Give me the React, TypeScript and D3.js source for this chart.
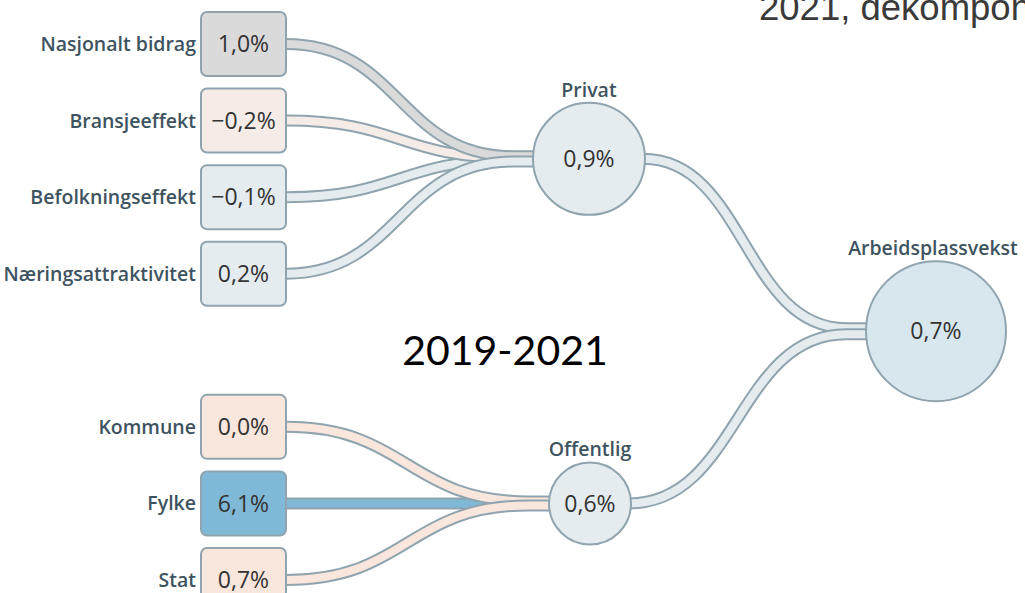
import React from "react";
import * as d3 from "d3";

// ---------- DATA ----------
const leftLabels = [
  "Nasjonalt bidrag",
  "Bransjeeffekt",
  "Befolkningseffekt",
  "Næringsattraktivitet",
  "Kommune",
  "Fylke",
  "Stat",
];
const leftValues = [1.0, -0.2, -0.1, 0.2, 0.0, 6.1, 0.7];
const leftTargets = ["Privat", "Privat", "Privat", "Privat", "Offentlig", "Offentlig", "Offentlig"];
const midLabels = ["Privat", "Offentlig"];
const midValues = [0.9, 0.6];
const rootLabel = "Arbeidsplassvekst";
const rootValue = 0.7;
const periodLabel = "2019-2021";
const titleText = "2021, dekomponert";

// ---------- STYLE ----------
const W = 1025;
const H = 593;
const outline = "#8fa4ae";
const labelColor = "#3e5360";
const valueColor = "#333333";
const font = "'Open Sans', sans-serif";
const leftFill: Record<string, string> = {
  "Nasjonalt bidrag": "#dadada",
  Bransjeeffekt: "#f5ece7",
  Befolkningseffekt: "#e5ecf0",
  Næringsattraktivitet: "#e5ecf0",
  Kommune: "#f9e6dc",
  Fylke: "#80b8d7",
  Stat: "#f9e6dc",
};
const midFill = "#e5ecf0";
const rootFill = "#d8e6ee";
const slot = [0, 1, 2, 3, 5, 6, 7];
const midRadius: Record<string, number> = { Privat: 56, Offentlig: 41 };
const rootRadius = 70;

const fmt = (v: number) => {
  const s = Math.abs(v).toFixed(1).replace(".", ",") + "%";
  return v < 0 ? "\u2212" + s : s;
};

export default function App() {
  const y = d3.scaleLinear().domain([0, 7]).range([44, 580]);
  const boxX = 201;
  const boxW = 85;
  const boxH = 64;
  const col = d3.scalePoint<string>().domain(["left", "mid", "root"]).range([243.5, 936]).padding(0);
  const midX = 589;
  const rootX = col("root")!;

  const midY: Record<string, number> = {};
  midLabels.forEach((m) => {
    const ys = leftLabels.map((_, i) => i).filter((i) => leftTargets[i] === m).map((i) => y(slot[i]));
    midY[m] = m === "Privat" ? (d3.min(ys)! + d3.max(ys)!) / 2 : d3.median(ys)!;
  });
  const rootY = (midY["Privat"] + midY["Offentlig"]) / 2;

  const linkGen = d3.linkHorizontal<any, [number, number]>()
    .source((d: any) => d.s)
    .target((d: any) => d.t);

  type L = { d: string; fill: string; dy: number };
  const links: L[] = [];
  midLabels.forEach((m) => {
    const idx = leftLabels.map((_, i) => i).filter((i) => leftTargets[i] === m);
    const n = idx.length;
    const left = midX + (m === "Privat" ? 0 : 1) - midRadius[m];
    idx.forEach((i, k) => {
      const off = (k - (n - 1) / 2) * (n > 3 ? 1.8 : 2);
      const sy = y(slot[i]);
      const ty = midY[m] + off;
      const x1 = left - 20;
      links.push({
        d: linkGen({ s: [boxX + boxW, sy], t: [x1, ty] })! + `L${left + 2},${ty}`,
        fill: leftFill[leftLabels[i]],
        dy: Math.abs(ty - sy),
      });
    });
  });
  links.sort((a, b) => a.dy - b.dy);

  const rootLinks: L[] = midLabels.map((m, k) => {
    const sx = midX + (m === "Privat" ? 0 : 1) + midRadius[m] - 2;
    const left = rootX - rootRadius;
    const ty = rootY + (k === 0 ? -3 : 3);
    return {
      d: linkGen({ s: [sx, midY[m]], t: [left - 20, ty] })! + `L${left + 2},${ty}`,
      fill: midFill,
      dy: 0,
    };
  });

  return (
    <svg width={W} height={H} style={{ position: "absolute", left: 0, top: 0 }}>
      <rect width={W} height={H} fill="#ffffff" />
      <text x={759} y={20} fontFamily="'Liberation Sans', Arial, sans-serif" fontSize={36.5} fill="#3a3a3a">
        {titleText}
      </text>
      {[...rootLinks, ...links].map((l, i) => (
        <g key={i}>
          <path d={l.d} fill="none" stroke={outline} strokeWidth={12} />
          <path d={l.d} fill="none" stroke={l.fill} strokeWidth={8} />
        </g>
      ))}
      {leftLabels.map((lab, i) => {
        const cy = y(slot[i]);
        return (
          <g key={lab}>
            <rect x={boxX} y={cy - boxH / 2} width={boxW} height={boxH} rx={6} fill={leftFill[lab]} stroke={outline} strokeWidth={2} />
            <text x={boxX + boxW / 2} y={cy} dy="0.36em" textAnchor="middle" fontFamily={font} fontSize={23} fill={valueColor}>
              {fmt(leftValues[i])}
            </text>
            <text x={boxX - 5} y={cy} dy="0.36em" textAnchor="end" fontFamily={font} fontWeight={600} fontSize={19.5} fill={labelColor}>
              {lab}
            </text>
          </g>
        );
      })}
      {midLabels.map((m, i) => {
        const cx = midX + (m === "Privat" ? 0 : 1);
        const r = midRadius[m];
        return (
          <g key={m}>
            <circle cx={cx} cy={midY[m]} r={r} fill={midFill} stroke={outline} strokeWidth={2} />
            <text x={cx} y={midY[m]} dy="0.36em" textAnchor="middle" fontFamily={font} fontSize={23} fill={valueColor}>
              {fmt(midValues[i])}
            </text>
            <text x={cx} y={midY[m] - r - 6} textAnchor="middle" fontFamily={font} fontWeight={600} fontSize={19.5} fill={labelColor}>
              {m}
            </text>
          </g>
        );
      })}
      <circle cx={rootX} cy={rootY} r={rootRadius} fill={rootFill} stroke={outline} strokeWidth={2} />
      <text x={rootX} y={rootY} dy="0.36em" textAnchor="middle" fontFamily={font} fontSize={23} fill={valueColor}>
        {fmt(rootValue)}
      </text>
      <text x={rootX - 3} y={rootY - rootRadius - 6} textAnchor="middle" fontFamily={font} fontWeight={600} fontSize={19.5} fill={labelColor}>
        {rootLabel}
      </text>
      <text x={505} y={365} textAnchor="middle" fontFamily="Lato, 'Open Sans', sans-serif" fontSize={41} fill="#000000">
        {periodLabel}
      </text>
    </svg>
  );
}
